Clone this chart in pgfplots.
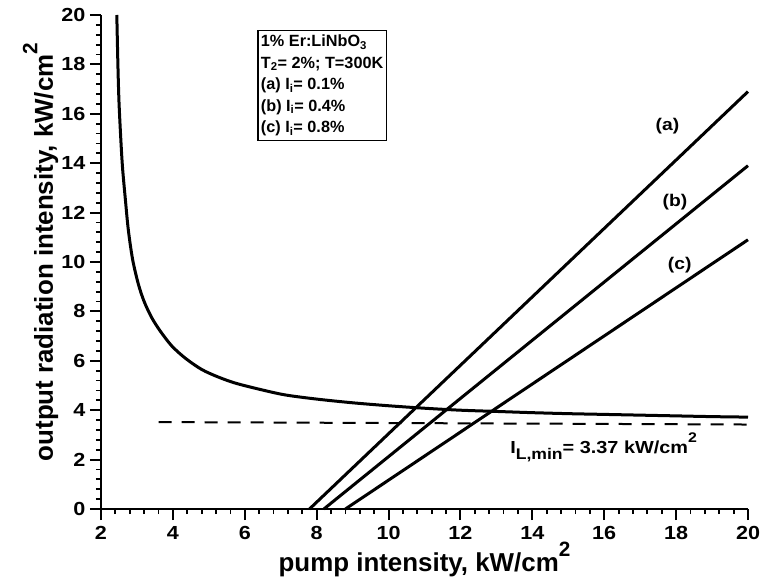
\documentclass[border=0pt]{standalone}
\usepackage{pgfplots}
\pgfplotsset{compat=1.18}
\usepackage{fontspec}
\setmainfont{Liberation Sans}
\newfontfamily\wide{Liberation Sans}[FakeStretch=1.14]
\newcommand{\supx}[1]{\raisebox{0.6em}{\scalebox{0.8}{#1}}}
\begin{document}
\begin{tikzpicture}
\begin{axis}[
  scale only axis, width=647bp, height=494bp,
  xmin=2, xmax=20, ymin=0, ymax=20,
  xtick={2,4,...,20}, ytick={0,2,...,20},
  minor tick num=4,
  axis lines*=left,
  axis line style={line width=2.5bp},
  tick align=outside,
  major tick length=11bp, minor tick length=5bp,
  every major tick/.append style={black, line width=2bp},
  every minor tick/.append style={black, line width=1.8bp},
  tick label style={font=\wide\fontsize{19}{20}\selectfont\bfseries},
  xticklabel style={yshift=-3bp},
  yticklabel style={xshift=-1bp},
  /pgf/number format/assume math mode=true,
  xlabel={pump intensity, kW/cm\supx{2}},
  ylabel={output radiation intensity, kW/cm\supx{2}},
  label style={font=\fontsize{26}{28}\selectfont\bfseries},
  xlabel style={at={(axis description cs:0.5,-0.127)}, anchor=base},
  ylabel style={at={(axis description cs:-0.0745,0.52)}, anchor=base, rotate=0},
  clip=false,
]
% curve
\addplot[black, line width=3bp, smooth] coordinates {
(2.44,20.0)(2.47,18.0)(2.50,16.5)(2.55,15.0)(2.60,13.8)(2.68,12.5)(2.76,11.3)
(2.88,10.1)(3.04,9.1)(3.20,8.4)(3.41,7.75)(3.65,7.2)(3.97,6.6)(4.35,6.1)
(4.80,5.65)(5.25,5.35)(5.73,5.10)(6.40,4.85)(7.12,4.62)(8.0,4.45)(9.0,4.30)
(10.0,4.18)(11.0,4.08)(12.0,4.00)(13.0,3.95)(14.0,3.90)(15.0,3.86)(16.0,3.83)
(17.0,3.80)(18.0,3.77)(19.0,3.74)(20.0,3.72)};
% dashed I_L,min
\addplot[black, line width=2bp, dash pattern=on 13bp off 10bp] coordinates {(3.6,3.52)(20,3.42)};
% lines
\addplot[black, line width=3bp] coordinates {(7.8,0)(20,16.9)};
\addplot[black, line width=3bp] coordinates {(8.2,0)(20,13.9)};
\addplot[black, line width=3bp] coordinates {(8.8,0)(20,10.9)};
% labels
\node[font=\wide\fontsize{17}{18}\selectfont\bfseries] at (axis cs:17.76,15.5) {(a)};
\node[font=\wide\fontsize{17}{18}\selectfont\bfseries] at (axis cs:17.97,12.44) {(b)};
\node[font=\wide\fontsize{17}{18}\selectfont\bfseries] at (axis cs:18.1,9.87) {(c)};
\node[anchor=base west, inner sep=0pt, font=\wide\fontsize{17.5}{18}\selectfont\bfseries] at (axis cs:13.38,2.26)
  {I\raisebox{-0.35em}{\fontsize{15.5}{15}\selectfont L,min}= 3.37 kW/cm\supx{2}};
\node[draw, line width=1.2bp, anchor=north west, align=left, inner xsep=3bp, inner ysep=4bp,
  font=\fontsize{16.3}{21.7}\selectfont\bfseries] at (axis cs:6.35,19.39)
  {1\% Er:LiNbO\textsubscript{3}\\T\textsubscript{2}= 2\%; T=300K\\(a) I\textsubscript{i}= 0.1\%\\(b) I\textsubscript{i}= 0.4\%\\(c) I\textsubscript{i}= 0.8\%};
\end{axis}
\pgfresetboundingbox
\path (-101bp,-76bp) rectangle (660bp,509bp);
\end{tikzpicture}
\end{document}
